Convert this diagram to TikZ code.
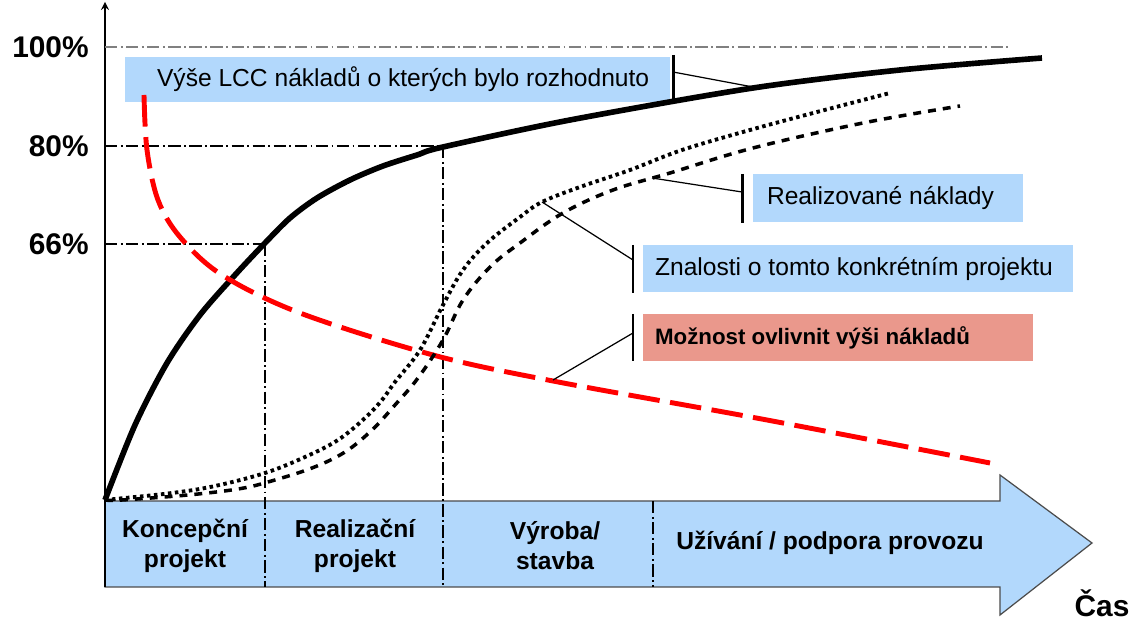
\documentclass[tikz,border=0pt]{standalone}
\usepackage{fontspec}
\setmainfont{Liberation Sans}
\usetikzlibrary{positioning}
\definecolor{lccblue}{RGB}{178,216,252}
\definecolor{lccsalmon}{RGB}{234,152,140}

\begin{document}
\begin{tikzpicture}[x=0.02cm, y=-0.02cm,
    txt/.style={font=\fontsize{14}{16.5}\selectfont, inner sep=0pt},
    phase/.style={font=\fontsize{14}{17}\selectfont\bfseries, align=center, inner sep=0pt},
    pct/.style={font=\fontsize{17}{20}\selectfont\bfseries, inner sep=0pt, anchor=east},
    callout/.style={fill=lccblue, inner sep=0pt},
    grid/.style={line width=0.8pt, dash pattern=on 7pt off 2pt on 1pt off 2pt},
    bar/.style={line width=1.7pt},
    leader/.style={line width=0.7pt}]

            \useasboundingbox (0,0) rectangle (1133,624);

            % time arrow
            \filldraw[fill=lccblue, draw=gray!60!black, line width=0.7pt] (105,501) -- (1000,501) -- (1000,475) -- (1092,543) -- (1000,615) -- (1000,587) -- (105,587) -- cycle;
            \draw[line width=1pt, -stealth] (105,587) -- (105,2);

            \draw[grid, gray] (105,47) -- (1010,47);
            \draw[grid] (105,146) -- (443,146);
            \draw[grid] (105,244) -- (265,244);
            \draw[grid] (265,244) -- (265,587);
            \draw[grid] (443,146) -- (443,587);
            \draw[grid] (653,501) -- (653,587);

            \node[pct] (p100) at (89,47) {100\%};
            \node[pct] (p80) at (89,146) {80\%};
            \node[pct] (p66) at (89,244) {66\%};
            \node[font=\fontsize{17}{20}\selectfont\bfseries, inner sep=0pt] (cas) at (1102,603) {Čas};

            \node[phase] (phase1) at (185,546) {Koncepční\\projekt};
            \node[phase] (phase2) at (355,546) {Realizační\\projekt};
            \node[phase] (phase3) at (555,546) {Výroba/\\stavba};
            \node[phase] (phase4) at (830,543) {Užívání / podpora provozu};

            % callouts
            \node[callout, minimum width=10.9cm, minimum height=0.9cm] (lccbox) at (397.5,79.5) {};
            \node[txt, right=0.64cm of lccbox.west] (lcctext) {Výše LCC nákladů o kterých bylo rozhodnuto};
            \node[callout, minimum width=5.4cm, minimum height=0.96cm] (realbox) at (888,198) {};
            \node[txt, right=0.28cm of realbox.west] (realtext) {Realizované náklady};
            \node[callout, minimum width=8.6cm, minimum height=0.94cm] (knowbox) at (858,268.5) {};
            \node[txt, right=0.24cm of knowbox.west] (knowtext) {Znalosti o tomto konkrétním projektu};
            \node[callout, fill=lccsalmon, minimum width=7.8cm, minimum height=0.94cm] (influbox) at (838,337.5) {};
            \node[txt, font=\fontsize{12.7}{15}\selectfont\bfseries, right=0.24cm of influbox.west] (influtext) {Možnost ovlivnit výši nákladů};

            \draw[bar] (673,55) -- (673,100);
            \draw[bar] (742,174) -- (742,223);
            \draw[bar] (633,245) -- (633,293);
            \draw[bar] (633,314) -- (633,361);

            % curves
            \draw[line width=3.2pt, line join=round] plot[smooth, tension=0.5] coordinates {(105,500) (135,425) (167,363) (200,315) (235,275) (265,243) (290,218) (317,198) (350,180) (383,166) (417,155) (443,147) (570,120) (753,88) (900,70) (1042,58)};
            \draw[red, line width=2.8pt, dash pattern=on 18pt off 6pt] plot[smooth, tension=0.55] coordinates {(144,95) (147,150) (158,200) (180,237) (222,275) (300,313) (433,355) (553,381) (767,420) (990,463)};
            \draw[line width=2.2pt, dash pattern=on 2pt off 2pt] plot[smooth, tension=0.6] coordinates {(105,500) (115,499) (172,493) (215,486) (265,473) (305,457) (338,440) (365,418) (382,400) (395,382) (420,350) (443,305) (463,270) (487,243) (520,217) (542,202) (580,187) (630,170) (682,150) (750,130) (817,112) (890,93)};
            \draw[line width=2pt, dash pattern=on 4.5pt off 4pt] plot[smooth, tension=0.6] coordinates {(105,500) (122,500) (188,495) (238,489) (268,482) (312,468) (345,452) (372,430) (395,405) (418,378) (443,340) (463,300) (490,267) (520,243) (563,213) (613,190) (670,173) (753,148) (863,123) (960,106)};

            % leaders
            \coordinate (lccbar) at (673,72);
            \coordinate (lccpt) at (753,87);
            \coordinate (realbar) at (742,192);
            \coordinate (realpt) at (652,178);
            \coordinate (knowbar) at (633,260);
            \coordinate (knowpt) at (542,202);
            \coordinate (influbar) at (633,333);
            \coordinate (influpt) at (553,380);
            \draw[leader] (lccbar) -- (lccpt);
            \draw[leader] (realbar) -- (realpt);
            \draw[leader] (knowbar) -- (knowpt);
            \draw[leader] (influbar) -- (influpt);

        \end{tikzpicture}
\end{document}
